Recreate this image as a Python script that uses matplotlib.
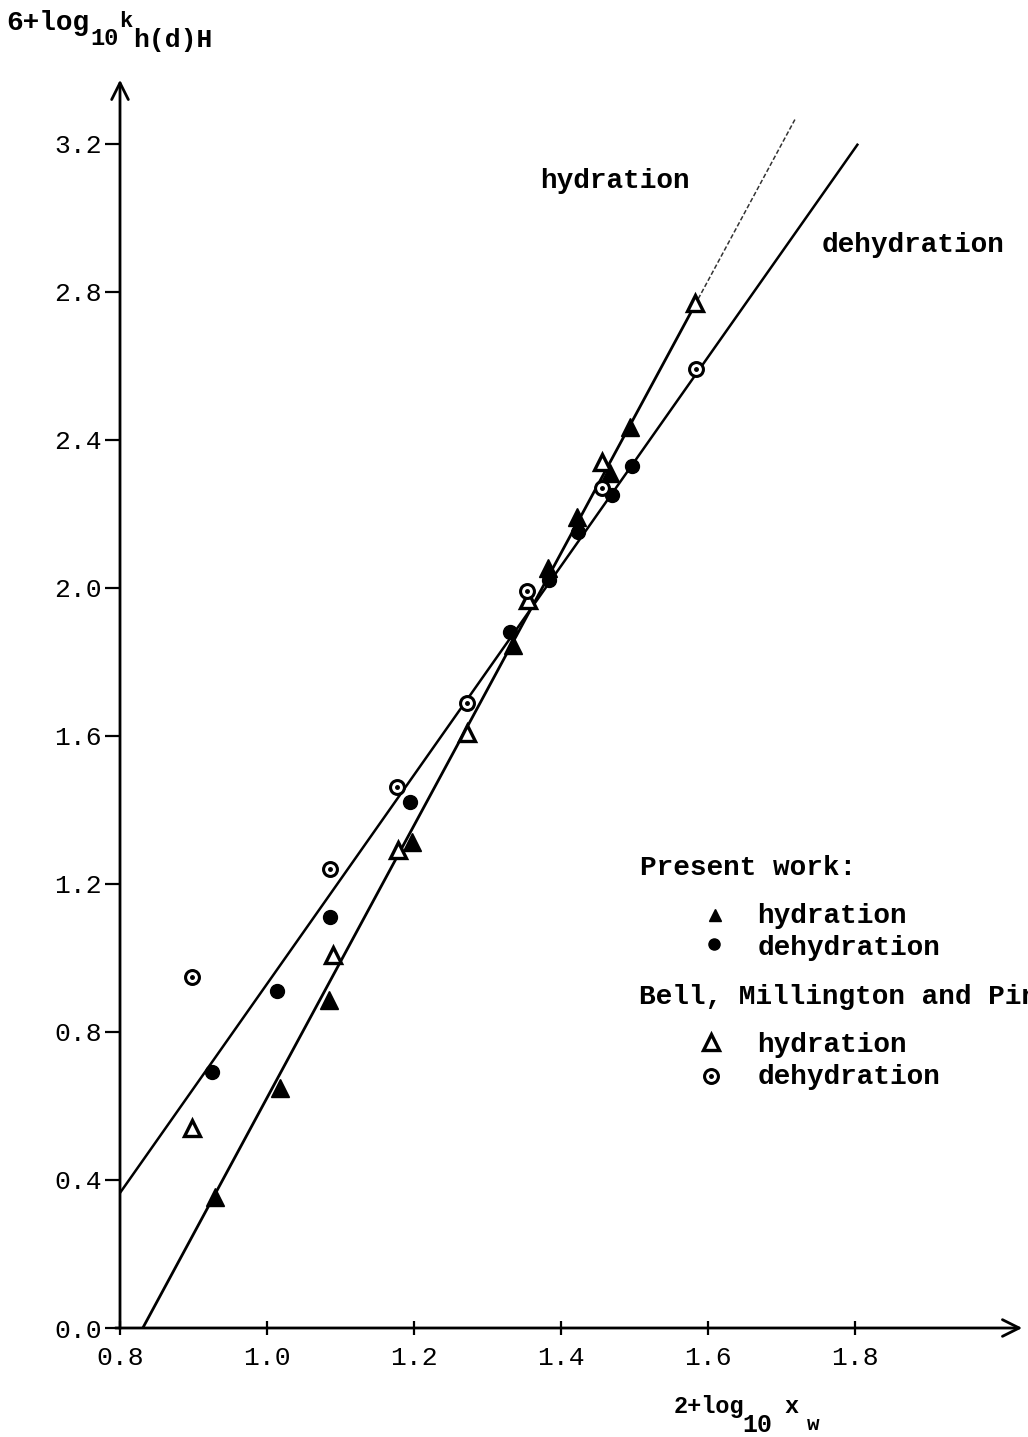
import matplotlib.pyplot as plt

plt.rcParams['font.family'] = ['Liberation Mono', 'DejaVu Sans Mono']

# present work
hyd_x = [0.929, 1.018, 1.084, 1.197, 1.334, 1.382, 1.422, 1.467, 1.494]
hyd_y = [0.354, 0.649, 0.886, 1.314, 1.846, 2.054, 2.19, 2.31, 2.435]
dehyd_x = [0.925, 1.014, 1.086, 1.195, 1.331, 1.384, 1.423, 1.469, 1.497]
dehyd_y = [0.692, 0.91, 1.111, 1.42, 1.88, 2.02, 2.15, 2.25, 2.33]

# Bell, Millington and Pink
bell_hyd_x = [0.898, 1.09, 1.178, 1.272, 1.355, 1.456, 1.582]
bell_hyd_y = [0.54, 1.008, 1.292, 1.608, 1.968, 2.34, 2.77]
bell_dehyd_x = [0.898, 1.086, 1.177, 1.272, 1.354, 1.456, 1.583]
bell_dehyd_y = [0.949, 1.24, 1.462, 1.689, 1.99, 2.27, 2.59]

# fitted straight lines (end points)
hyd_line_x = [0.831, 1.582]
hyd_line_y = [0.0, 2.764]
hyd_ext_x = [1.582, 1.718]
hyd_ext_y = [2.764, 3.265]
dehyd_line_x = [0.8, 1.803]
dehyd_line_y = [0.365, 3.197]

xticks = [0.8, 1.0, 1.2, 1.4, 1.6, 1.8]
yticks = [0.0, 0.4, 0.8, 1.2, 1.6, 2.0, 2.4, 2.8, 3.2]

W, H = 1028, 1437
fig = plt.figure(figsize=(W / 100, H / 100), dpi=100)
ax = fig.add_axes([120 / W, (H - 1328) / H, 905 / W, 1251 / H])
ax.set_xlim(0.8, 2.031)
ax.set_ylim(0.0, 3.38)
for s in ax.spines.values():
    s.set_visible(False)


# открытая точка с точкой внутри
def dotted_circle(x, y):
    ax.plot(x, y, 'o', ms=10, mfc='white', mec='black', mew=2.2, zorder=5, clip_on=False)
    ax.plot(x, y, 'o', ms=2.5, color='black', zorder=6, clip_on=False)


def open_triangle(x, y):
    ax.plot(x, y, '^', ms=12, mfc='white', mec='black', mew=2.4, zorder=5, clip_on=False)


# подпись из кусков (индексы смещены вниз), координаты в пикселях
def pieces(parts):
    for txt, px, py, size in parts:
        fig.text(px / W, 1 - py / H, txt, fontsize=size, fontweight='bold', va='baseline')


# lines
ax.plot(hyd_line_x, hyd_line_y, color='black', lw=2)
ax.plot(hyd_ext_x, hyd_ext_y, color='#333333', lw=1.1, ls=(0, (3, 1.5)))
ax.plot(dehyd_line_x, dehyd_line_y, color='black', lw=1.8)

# points
ax.plot(hyd_x, hyd_y, '^', ms=13, color='black', zorder=5)
ax.plot(dehyd_x, dehyd_y, 'o', ms=10, color='black', zorder=5)
open_triangle(bell_hyd_x, bell_hyd_y)
dotted_circle(bell_dehyd_x, bell_dehyd_y)

# axes with arrows
ax.annotate('', xy=(0.8, 3.38), xytext=(0.8, -0.01), annotation_clip=False,
            arrowprops=dict(arrowstyle='->', lw=2, color='black', mutation_scale=30))
ax.annotate('', xy=(2.031, 0.0), xytext=(0.79, 0.0), annotation_clip=False,
            arrowprops=dict(arrowstyle='->', lw=2, color='black', mutation_scale=30))

ax.set_xticks(xticks)
ax.set_xticklabels([f"{t:.1f}" for t in xticks], fontsize=19)
ax.set_yticks(yticks)
ax.set_yticklabels([f"{t:.1f}" for t in yticks], fontsize=19)
ax.tick_params(axis='y', direction='out', length=11, width=1.6, pad=2)
ax.tick_params(axis='x', direction='inout', length=10, width=1.6, pad=8)

# texts
bold = dict(fontsize=20, fontweight='bold', va='center')
ax.text(1.371, 3.10, 'hydration', **bold)
ax.text(1.755, 2.925, 'dehydration', **bold)

ax.text(1.507, 1.243, 'Present work:', **bold)
ax.plot(1.61, 1.117, '^', ms=9, color='black', clip_on=False)
ax.text(1.667, 1.113, 'hydration', **bold)
ax.plot(1.608, 1.037, 'o', ms=8, color='black', clip_on=False)
ax.text(1.667, 1.027, 'dehydration', **bold)
ax.text(1.506, 0.895, 'Bell, Millington and Pink:', **bold)
open_triangle(1.604, 0.772)
ax.text(1.667, 0.765, 'hydration', **bold)
dotted_circle(1.604, 0.68)
ax.text(1.667, 0.678, 'dehydration', **bold)

# axis titles
pieces([('6+log', 6, 30, 20), ('10', 90, 45, 17), ('k', 119, 27, 16), ('h(d)H', 133, 47, 19)])
pieces([('2+log', 674, 1413, 17), ('10', 742, 1432, 18), ('x', 784, 1413, 17), ('w', 807, 1430, 15)])

fig.savefig('out.png', dpi=100)
